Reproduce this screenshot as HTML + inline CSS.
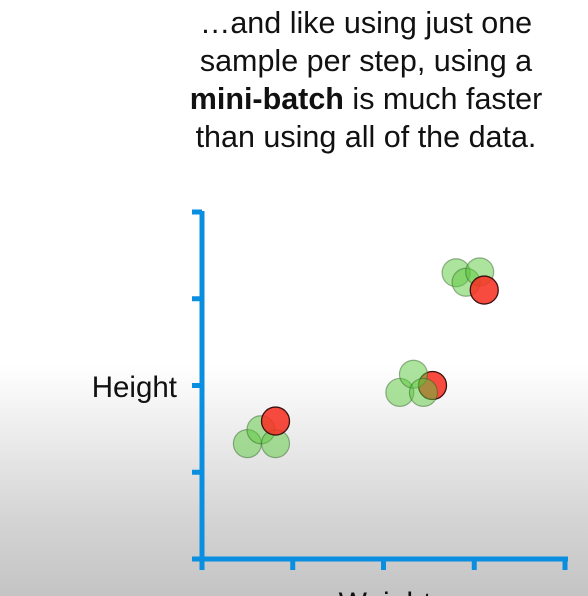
<!DOCTYPE html>
<html><head><meta charset="utf-8"><style>
html,body{margin:0;padding:0}
body{width:588px;height:596px;overflow:hidden;position:relative;background:linear-gradient(to bottom,#fff 0,#fff 365px,#f0f0f0 420px,#d4d4d4 520px,#c4c4c4 596px);font-family:"Liberation Sans",sans-serif}
#cap{position:absolute;left:134px;width:464px;top:4px;text-align:center;font-size:30.5px;line-height:38px;color:#111}
svg{overflow:hidden}
</style></head><body>
<div id="cap">…and like using just one<br>sample per step, using a<br><b>mini-batch</b> is much faster<br>than using all of the data.</div>
<svg id="chart" width="588" height="596" style="position:absolute;left:0;top:0">
<text x="177" y="397" text-anchor="end" font-size="29.5" font-family="Liberation Sans" fill="#111">Height</text>
<text x="385" y="613" text-anchor="middle" font-size="30" font-family="Liberation Sans" fill="#111">Weight</text>
<g id="axes"></g><g id="marks"></g>
</svg>
<script>
const greenX=[0.50,0.65,0.81,2.18,2.33,2.44,2.80,2.91,3.06];
const greenY=[1.33,1.49,1.33,1.92,2.13,1.92,3.30,3.19,3.31];
const redX=[0.81,2.54,3.11];
const redY=[1.59,2.00,3.10];
const xTicks=[0,1,2,3,4];
const yTicks=[1,2,3,4];
const X0=202,Y0=559,XS=90.75,YS=86.75;
const sx=v=>X0+v*XS, sy=v=>Y0-v*YS;
const NS="http://www.w3.org/2000/svg";
const axes=document.getElementById('axes'), marks=document.getElementById('marks');
function mk(tag,attrs,parent){const e=document.createElementNS(NS,tag);for(const k in attrs)e.setAttribute(k,attrs[k]);parent.appendChild(e);return e;}
const blue="#0a8ee0";
let ya=mk('line',{x1:X0,y1:sy(4)-1,x2:X0,y2:Y0+3,stroke:blue,'stroke-width':5},axes);


let xa=mk('line',{x1:X0-10,y1:Y0,x2:sx(4)+3,y2:Y0,stroke:blue,'stroke-width':5},axes);


yTicks.forEach(t=>{let l=mk('line',{x1:X0-10,y1:sy(t),x2:X0,y2:sy(t),stroke:blue,'stroke-width':5},axes);

});
xTicks.forEach(t=>{let l=mk('line',{x1:sx(t),y1:Y0,x2:sx(t),y2:Y0+11,stroke:blue,'stroke-width':5},axes);

});
function red(i){let c=mk('circle',{cx:sx(redX[i]),cy:sy(redY[i]),r:14,fill:'rgba(245,50,35,0.88)',stroke:'#3a1010','stroke-width':1.3},marks);

}
red(1);
greenX.forEach((v,i)=>{let c=mk('circle',{cx:sx(v),cy:sy(greenY[i]),r:14,fill:'rgba(90,200,60,0.5)',stroke:'rgba(40,90,30,0.45)','stroke-width':1.2},marks);

});
red(0);red(2);
</script>
</body></html>
